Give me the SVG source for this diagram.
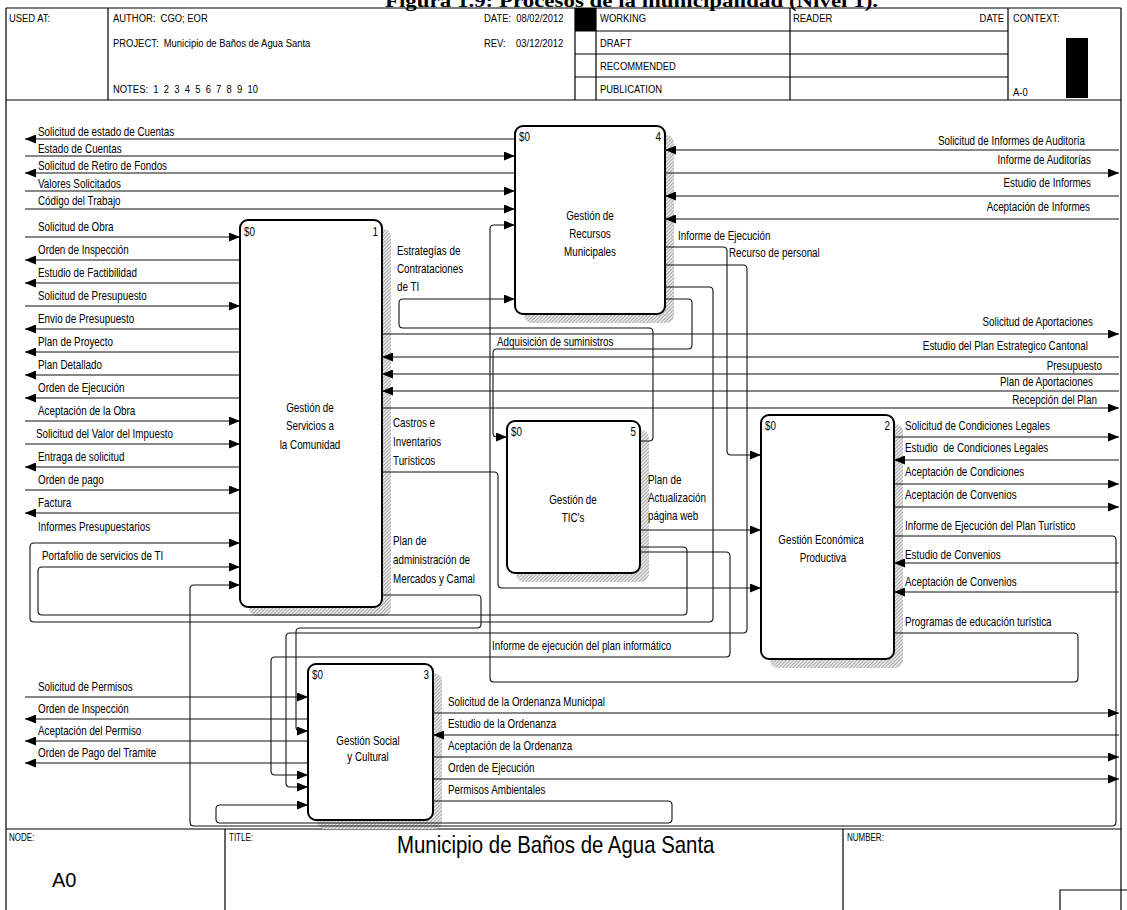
<svg xmlns="http://www.w3.org/2000/svg" width="1127" height="910" viewBox="0 0 1127 910">
<defs>
<style>
.t{font-family:"Liberation Sans",Arial,sans-serif;font-size:12px;fill:#000}
.h{font-family:"Liberation Sans",Arial,sans-serif;font-size:11.5px;fill:#000}
.s{font-family:"Liberation Sans",Arial,sans-serif;font-size:10px;fill:#000}
.r{text-anchor:end}
.c{text-anchor:middle}
.ln{fill:none;stroke:#111;stroke-width:1.1}
.ar{marker-end:url(#ah)}
.fr{fill:none;stroke:#000;stroke-width:1.2}
.box{fill:#fff;stroke:#000;stroke-width:2}
.sh{fill:url(#hatch)}
</style>
<pattern id="hatch" patternUnits="userSpaceOnUse" width="2.5" height="2.5" patternTransform="rotate(45)">
<rect width="2.5" height="2.5" fill="#e6e6e6"/>
<line x1="0" y1="0" x2="0" y2="2.5" stroke="#7a7a7a" stroke-width="1"/>
</pattern>
<marker id="ah" viewBox="0 0 11 9" refX="11" refY="4.5" markerWidth="11" markerHeight="9" markerUnits="userSpaceOnUse" orient="auto">
<path d="M0,0L11,4.5L0,9z" fill="#000"/>
</marker>
</defs>
<rect width="1127" height="910" fill="#fff"/>
<text x="385" y="7" font-family="Liberation Serif, serif" font-weight="bold" font-size="19" textLength="493" lengthAdjust="spacingAndGlyphs">Figura 1.9: Procesos de la municipalidad (Nivel 1).</text>

<g id="frame">
<path class="fr" d="M6,8H1121M6,8V910M1121,8V910M6,100H1121M108,8V100M575,8V100M596,8V100M790,8V100M1008,8V100M575,31H1008M575,54H1008M575,77H1008"/>
<rect x="575" y="8" width="21" height="23" fill="#000"/>
<rect x="1066" y="38" width="22" height="60" fill="#000"/>
<text class="h" transform="matrix(.82 0 0 1 9 22)">USED AT:</text>
<text class="h" transform="matrix(.82 0 0 1 113 22)" xml:space="preserve">AUTHOR:  CGO; EOR</text>
<text class="h" transform="matrix(.82 0 0 1 113 47)" xml:space="preserve">PROJECT:  Municipio de Baños de Agua Santa</text>
<text class="h" transform="matrix(.82 0 0 1 113 93)" xml:space="preserve">NOTES:  1  2  3  4  5  6  7  8  9  10</text>
<text class="h" transform="matrix(.82 0 0 1 484 22)" xml:space="preserve">DATE:  08/02/2012</text>
<text class="h" transform="matrix(.82 0 0 1 484 47)" xml:space="preserve">REV:    03/12/2012</text>
<text class="h" transform="matrix(.82 0 0 1 600 22)">WORKING</text>
<text class="h" transform="matrix(.82 0 0 1 600 47)">DRAFT</text>
<text class="h" transform="matrix(.82 0 0 1 600 70)">RECOMMENDED</text>
<text class="h" transform="matrix(.82 0 0 1 600 93)">PUBLICATION</text>
<text class="h" transform="matrix(.82 0 0 1 793 22)">READER</text>
<text class="h r" transform="matrix(.82 0 0 1 1004 22)">DATE</text>
<text class="h" transform="matrix(.82 0 0 1 1013 22)">CONTEXT:</text>
<text class="h" transform="matrix(.82 0 0 1 1013 96)">A-0</text>
<path class="fr" d="M6,829H1121M225,829V910M843,829V910M1060,910V890H1127"/>
<text class="s" transform="matrix(.8 0 0 1 9 841)">NODE:</text>
<text class="s" transform="matrix(.8 0 0 1 229 841)">TITLE:</text>
<text class="s" transform="matrix(.8 0 0 1 847 841)">NUMBER:</text>
<text transform="matrix(.85 0 0 1 397 853)" font-family="Liberation Sans, Arial, sans-serif" font-size="24">Municipio de Baños de Agua Santa</text>
<text x="52" y="887" font-family="Liberation Sans, Arial, sans-serif" font-size="20">A0</text>
</g>

<g id="node-A4">
<rect class="sh" x="524" y="135" width="150" height="188" rx="8"/>
<rect class="box" x="515" y="126" width="150" height="188" rx="8"/>
<text class="t" transform="matrix(.82 0 0 1 519 141)">$0</text><text class="t r" transform="matrix(.82 0 0 1 661 141)">4</text>
<text class="t c" transform="matrix(.82 0 0 1 590 220)">Gestión de</text>
<text class="t c" transform="matrix(.82 0 0 1 590 238)">Recursos</text>
<text class="t c" transform="matrix(.82 0 0 1 590 256)">Municipales</text>
</g>
<g id="node-A1">
<rect class="sh" x="249" y="229" width="142" height="387" rx="8"/>
<rect class="box" x="240" y="220" width="142" height="387" rx="8"/>
<text class="t" transform="matrix(.82 0 0 1 244 236)">$0</text><text class="t r" transform="matrix(.82 0 0 1 378 236)">1</text>
<text class="t c" transform="matrix(.82 0 0 1 310 412)">Gestión de</text>
<text class="t c" transform="matrix(.82 0 0 1 310 430)">Servicios a</text>
<text class="t c" transform="matrix(.82 0 0 1 310 449)">la Comunidad</text>
</g>
<g id="node-A5">
<rect class="sh" x="516" y="430" width="133" height="152" rx="8"/>
<rect class="box" x="507" y="421" width="133" height="152" rx="8"/>
<text class="t" transform="matrix(.82 0 0 1 511 436)">$0</text><text class="t r" transform="matrix(.82 0 0 1 636 436)">5</text>
<text class="t c" transform="matrix(.82 0 0 1 573 504)">Gestión de</text>
<text class="t c" transform="matrix(.82 0 0 1 573 522)">TIC's</text>
</g>
<g id="node-A2">
<rect class="sh" x="770" y="424" width="133" height="244" rx="8"/>
<rect class="box" x="761" y="415" width="133" height="244" rx="8"/>
<text class="t" transform="matrix(.82 0 0 1 765 430)">$0</text><text class="t r" transform="matrix(.82 0 0 1 890 430)">2</text>
<text class="t c" transform="matrix(.82 0 0 1 821 544)">Gestión Económica</text>
<text class="t c" transform="matrix(.82 0 0 1 823 562)">Productiva</text>
</g>
<g id="node-A3">
<rect class="sh" x="317" y="673" width="125" height="156" rx="8"/>
<rect class="box" x="308" y="664" width="125" height="156" rx="8"/>
<text class="t" transform="matrix(.82 0 0 1 312 679)">$0</text><text class="t r" transform="matrix(.82 0 0 1 429 679)">3</text>
<text class="t c" transform="matrix(.82 0 0 1 368 745)">Gestión Social</text>
<text class="t c" transform="matrix(.82 0 0 1 368 761)">y Cultural</text>
</g>

<g id="connectors">
<g class="ln ar">
<path d="M515,139H25"/><path d="M25,156H515"/><path d="M515,173H25"/><path d="M25,191H515"/><path d="M25,209H515"/>
<path d="M25,237H240"/><path d="M240,260H25"/><path d="M240,283H25"/><path d="M25,306H240"/><path d="M240,329H25"/><path d="M240,352H25"/><path d="M240,375H25"/><path d="M240,398H25"/><path d="M25,421H240"/><path d="M25,444H240"/><path d="M240,467H25"/><path d="M25,490H240"/><path d="M240,513H25"/>
<path d="M665,287H709Q713,287 713,291V618Q713,622 709,622H34Q30,622 30,618V547Q30,543 34,543H240"/>
<path d="M640,547H683Q687,547 687,551V611Q687,615 683,615H42Q38,615 38,611V571Q38,567 42,567H240"/>
<path d="M894,536H1112Q1116,536 1116,540V822Q1116,826 1112,826H194Q190,826 190,822V589Q190,585 194,585H240"/>
<path d="M382,334H1119"/><path d="M1119,357H382"/><path d="M1119,374H382"/><path d="M1119,391H382"/><path d="M382,408H1119"/>
<path d="M382,472H494Q498,472 498,476V584Q498,588 502,588H761"/>
<path d="M382,595H477Q481,595 481,599V624Q481,628 477,628H300Q296,628 296,632V727Q296,731 300,731H308"/>
<path d="M640,441H649Q653,441 653,437V332Q653,328 649,328H403Q399,328 399,324V303Q399,299 403,299H515"/>
<path d="M894,633H1074Q1078,633 1078,637V678Q1078,682 1074,682H494Q490,682 490,678V229Q490,225 494,225H515"/>
<path d="M1119,150H665"/><path d="M665,173H1119"/><path d="M1119,196H665"/><path d="M1119,219H665"/>
<path d="M665,247H723Q727,247 727,251V451Q727,455 731,455H761"/>
<path d="M665,265H743Q747,265 747,269V629Q747,633 743,633H290Q286,633 286,637V783Q286,787 290,787H308"/>
<path d="M665,299H688Q692,299 692,303V345Q692,349 688,349H497Q493,349 493,353V433Q493,437 497,437H507"/>
<path d="M640,530H761"/>
<path d="M640,552H726Q730,552 730,556V653Q730,657 726,657H275Q271,657 271,661V771Q271,775 275,775H308"/>
<path d="M894,437H1119"/><path d="M1119,460H894"/><path d="M894,484H1119"/><path d="M894,507H1119"/><path d="M1119,563H894"/><path d="M1119,592H894"/>
<path d="M25,697H308"/><path d="M308,719H25"/><path d="M308,741H25"/><path d="M308,763H25"/>
<path d="M433,713H1119"/><path d="M1119,735H433"/><path d="M433,757H1119"/><path d="M433,779H1119"/>
<path d="M433,801H668Q672,801 672,805V819Q672,823 668,823H220Q216,823 216,819V809Q216,805 220,805H308"/>
</g>
<g class="t">
<text transform="matrix(.82 0 0 1 38 136)">Solicitud de estado de Cuentas</text>
<text transform="matrix(.82 0 0 1 38 153)">Estado de Cuentas</text>
<text transform="matrix(.82 0 0 1 38 170)">Solicitud de Retiro de Fondos</text>
<text transform="matrix(.82 0 0 1 38 188)">Valores Solicitados</text>
<text transform="matrix(.82 0 0 1 38 205)">Código del Trabajo</text>
<text transform="matrix(.82 0 0 1 38 231)">Solicitud de Obra</text>
<text transform="matrix(.82 0 0 1 38 254)">Orden de Inspección</text>
<text transform="matrix(.82 0 0 1 38 277)">Estudio de Factibilidad</text>
<text transform="matrix(.82 0 0 1 38 300)">Solicitud de Presupuesto</text>
<text transform="matrix(.82 0 0 1 38 323)">Envio de Presupuesto</text>
<text transform="matrix(.82 0 0 1 38 346)">Plan de Proyecto</text>
<text transform="matrix(.82 0 0 1 38 369)">Plan Detallado</text>
<text transform="matrix(.82 0 0 1 38 392)">Orden de Ejecución</text>
<text transform="matrix(.82 0 0 1 38 415)">Aceptación de la Obra</text>
<text transform="matrix(.82 0 0 1 36 438)">Solicitud del Valor del Impuesto</text>
<text transform="matrix(.82 0 0 1 38 461)">Entraga de solicitud</text>
<text transform="matrix(.82 0 0 1 38 484)">Orden de pago</text>
<text transform="matrix(.82 0 0 1 38 507)">Factura</text>
<text transform="matrix(.82 0 0 1 38 531)">Informes Presupuestarios</text>
<text transform="matrix(.82 0 0 1 42 560)">Portafolio de servicios de TI</text>
<text class="r" transform="matrix(.82 0 0 1 1085 145)">Solicitud de Informes de Auditoría</text>
<text class="r" transform="matrix(.82 0 0 1 1091 164)">Informe de Auditorías</text>
<text class="r" transform="matrix(.82 0 0 1 1091 187)">Estudio de Informes</text>
<text class="r" transform="matrix(.82 0 0 1 1090 211)">Aceptación de Informes</text>
<text transform="matrix(.82 0 0 1 678 240)">Informe de Ejecución</text>
<text transform="matrix(.82 0 0 1 729 257)">Recurso de personal</text>
<text transform="matrix(.82 0 0 1 397 255)">Estrategías de</text>
<text transform="matrix(.82 0 0 1 397 273)">Contrataciones</text>
<text transform="matrix(.82 0 0 1 397 291)">de TI</text>
<text transform="matrix(.82 0 0 1 497 346)">Adquisición de suministros</text>
<text class="r" transform="matrix(.82 0 0 1 1093 326)">Solicitud de Aportaciones</text>
<text class="r" transform="matrix(.82 0 0 1 1088 350)">Estudio del Plan Estrategico Cantonal</text>
<text class="r" transform="matrix(.82 0 0 1 1102 370)">Presupuesto</text>
<text class="r" transform="matrix(.82 0 0 1 1093 386)">Plan de Aportaciones</text>
<text class="r" transform="matrix(.82 0 0 1 1097 404)">Recepción del Plan</text>
<text transform="matrix(.82 0 0 1 393 427)">Castros e</text>
<text transform="matrix(.82 0 0 1 393 446)">Inventarios</text>
<text transform="matrix(.82 0 0 1 393 465)">Turísticos</text>
<text transform="matrix(.82 0 0 1 393 545)">Plan de</text>
<text transform="matrix(.82 0 0 1 393 564)">administración de</text>
<text transform="matrix(.82 0 0 1 393 583)">Mercados y Camal</text>
<text transform="matrix(.82 0 0 1 648 484)">Plan de</text>
<text transform="matrix(.82 0 0 1 648 502)">Actualización</text>
<text transform="matrix(.82 0 0 1 648 520)">página web</text>
<text transform="matrix(.82 0 0 1 492 650)">Informe de ejecución del plan informático</text>
<text transform="matrix(.82 0 0 1 905 430)">Solicitud de Condiciones Legales</text>
<text transform="matrix(.82 0 0 1 905 452)" xml:space="preserve">Estudio  de Condiciones Legales</text>
<text transform="matrix(.82 0 0 1 905 476)">Aceptación de Condiciones</text>
<text transform="matrix(.82 0 0 1 905 499)">Aceptación de Convenios</text>
<text transform="matrix(.82 0 0 1 905 530)">Informe de Ejecución del Plan Turístico</text>
<text transform="matrix(.82 0 0 1 905 559)">Estudio de Convenios</text>
<text transform="matrix(.82 0 0 1 905 586)">Aceptación de Convenios</text>
<text transform="matrix(.82 0 0 1 905 626)">Programas de educación turística</text>
<text transform="matrix(.82 0 0 1 38 691)">Solicitud de Permisos</text>
<text transform="matrix(.82 0 0 1 38 713)">Orden de Inspección</text>
<text transform="matrix(.82 0 0 1 38 735)">Aceptación del Permiso</text>
<text transform="matrix(.82 0 0 1 38 757)">Orden de Pago del Tramite</text>
<text transform="matrix(.82 0 0 1 448 706)">Solicitud de la Ordenanza Municipal</text>
<text transform="matrix(.82 0 0 1 448 728)">Estudio de la Ordenanza</text>
<text transform="matrix(.82 0 0 1 448 750)">Aceptación de la Ordenanza</text>
<text transform="matrix(.82 0 0 1 448 772)">Orden de Ejecución</text>
<text transform="matrix(.82 0 0 1 448 794)">Permisos Ambientales</text>
</g>
</g>
</svg>
